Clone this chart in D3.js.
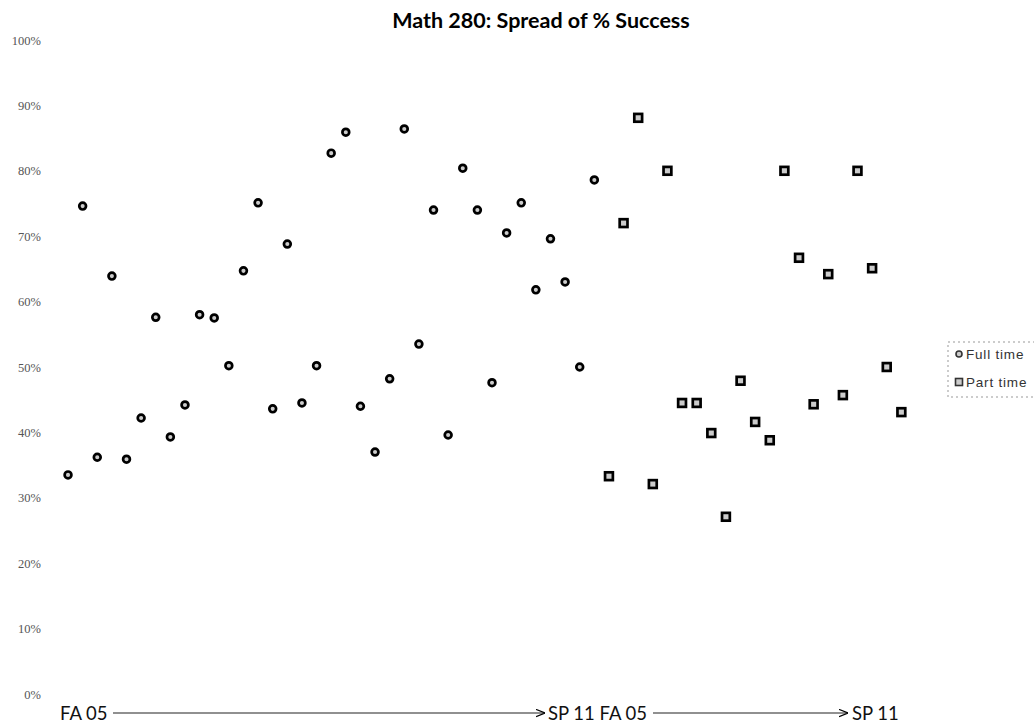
<!DOCTYPE html>
<html>
<head>
<style>
body {margin: 0; background: #fff; font-family: Lato, Arial;}
</style>
<script src="https://cdnjs.cloudflare.com/ajax/libs/d3/7.8.5/d3.min.js"></script>
</head>
<body>
<div id="chart-container"></div>
<script>
    // values, in plotting order (FA 05 -> SP 11, twice)
    const fullTime = [33.5, 74.6, 36.2, 63.9, 35.9, 42.2, 57.6, 39.3, 44.2, 58.0,
                      57.5, 50.2, 64.7, 75.1, 43.6, 68.8, 44.5, 50.2, 82.7, 85.9,
                      44.0, 37.0, 48.2, 86.4, 53.5, 74.0, 39.6, 80.4, 74.0, 47.6,
                      70.5, 75.1, 61.8, 69.6, 63.0, 50.0, 78.6];
    const partTime = [33.3, 72.0, 88.1, 32.1, 80.0, 44.5, 44.5, 39.9, 27.1, 47.9,
                      41.6, 38.8, 80.0, 66.7, 44.3, 64.2, 45.7, 80.0, 65.1, 50.0, 43.1];
    const seriesNames = ["Full time", "Part time"];
    const yTicks = [0, 10, 20, 30, 40, 50, 60, 70, 80, 90, 100];
    const termLabels = ["FA 05", "SP 11 FA 05", "SP 11"];

    const width = 1034, height = 725;

    const svg = d3.select("#chart-container")
        .append("svg")
        .attr("width", width)
        .attr("height", height);

    const x = d3.scaleLinear().domain([0, 60]).range([53.4, 930.6]);
    const y = d3.scaleLinear().domain([0, 100]).range([694, 40]);

    const ftData = fullTime.map((v, i) => ({i: i + 1, v: v}));
    const ptData = partTime.map((v, i) => ({i: fullTime.length + i + 1, v: v}));

    // title
    svg.append("text")
        .attr("x", 541)
        .attr("y", 28)
        .attr("text-anchor", "middle")
        .style("font-family", "Lato")
        .style("font-weight", "bold")
        .style("font-size", "21.5px")
        .text("Math 280: Spread of % Success");

    // y axis, labels only
    const yAxis = svg.append("g")
        .attr("transform", "translate(41,0)")
        .call(d3.axisLeft(y).tickValues(yTicks).tickSize(0).tickPadding(0)
            .tickFormat(d => d + "%"));
    yAxis.select(".domain").remove();
    yAxis.selectAll("text")
        .style("font-family", "Liberation Serif")
        .style("font-size", "12.5px")
        .style("fill", "#555");

    // markers
    svg.append("g")
        .selectAll("circle")
        .data(ftData)
        .join("circle")
            .attr("cx", d => x(d.i))
            .attr("cy", d => y(d.v))
            .attr("r", 3.4)
            .attr("fill", "#ccc")
            .attr("stroke", "black")
            .style("stroke-width", 2.7);

    svg.append("g")
        .selectAll("rect")
        .data(ptData)
        .join("rect")
            .attr("x", d => x(d.i) - 3.9)
            .attr("y", d => y(d.v) - 3.9)
            .attr("width", 7.8)
            .attr("height", 7.8)
            .attr("fill", "#ccc")
            .attr("stroke", "black")
            .style("stroke-width", 2.7);

    // bottom labels with arrows
    svg.append("defs").append("marker")
        .attr("id", "arrow")
        .attr("viewBox", "0 0 10 10")
        .attr("refX", 10).attr("refY", 5)
        .attr("markerWidth", 9).attr("markerHeight", 9)
        .attr("markerUnits", "userSpaceOnUse")
        .attr("orient", "auto")
        .append("path")
        .attr("d", "M0,1 L10,5 L0,9")
        .attr("fill", "none")
        .attr("stroke", "black")
        .attr("stroke-width", 1.4);

    const labelY = 720;
    const labelPos = [60, 548, 852];
    svg.append("g")
        .selectAll("text")
        .data(termLabels)
        .join("text")
            .attr("x", (d, i) => labelPos[i])
            .attr("y", labelY)
            .style("font-family", "Lato")
            .style("font-size", "18.5px")
            .style("fill", "#111")
            .text(d => d);

    const arrows = [[113, 545], [653, 848]];
    svg.append("g")
        .selectAll("line")
        .data(arrows)
        .join("line")
            .attr("x1", d => d[0])
            .attr("x2", d => d[1])
            .attr("y1", 713)
            .attr("y2", 713)
            .attr("stroke", "#222")
            .attr("stroke-width", 1.2)
            .attr("marker-end", "url(#arrow)");

    // legend
    const legend = svg.append("g").attr("transform", "translate(948,342)");
    legend.append("rect")
        .attr("width", 95).attr("height", 55)
        .attr("fill", "none")
        .attr("stroke", "#999")
        .attr("stroke-dasharray", "2,3");
    legend.append("circle")
        .attr("cx", 11).attr("cy", 12).attr("r", 3)
        .attr("fill", "#ccc").attr("stroke", "#333").style("stroke-width", 1.6);
    legend.append("rect")
        .attr("x", 7.5).attr("y", 36.5).attr("width", 7).attr("height", 7)
        .attr("fill", "#ccc").attr("stroke", "#333").style("stroke-width", 1.6);
    legend.selectAll("text.lbl")
        .data(seriesNames)
        .join("text")
            .attr("class", "lbl")
            .attr("x", 18)
            .attr("y", (d, i) => 17 + i * 28)
            .style("font-family", "Liberation Sans Narrow, Liberation Sans")
            .style("font-size", "13.5px")
            .style("letter-spacing", "0.8px")
            .style("fill", "#333")
            .text(d => d);
</script>
</body>
</html>
